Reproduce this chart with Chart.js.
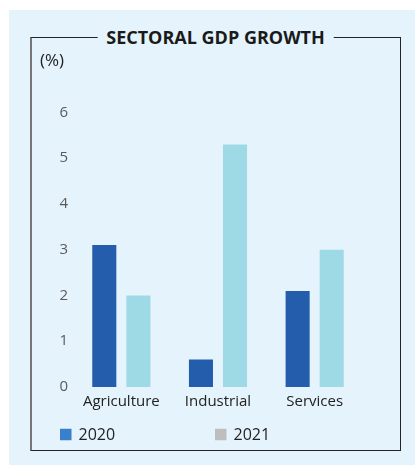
<!DOCTYPE html>
<html>
<head>
<meta charset="utf-8">
<script src="https://cdn.jsdelivr.net/npm/chart.js@4"></script>
<style>
    body { margin: 0; width: 415px; height: 465px; background: #fff; overflow: hidden; position: relative; font-family: "Open Sans", sans-serif; }
    .panel { position: absolute; left: 9px; top: 10px; width: 406px; height: 455px; background: #E5F4FC; }
    .frame { position: absolute; left: 30px; top: 37px; width: 371px; height: 414px; box-sizing: border-box; border: 1px solid #222; border-left: 2px solid #777; }
    .heading { position: absolute; left: 215.5px; top: 37px; transform: translate(-50%, -50%); background: #E5F4FC; padding: 0 9px; font-weight: bold; font-size: 18px; color: #1a1a1a; white-space: nowrap; }
    #myChart { position: absolute; left: 0; top: 0; }
</style>
</head>
<body>
<div class="panel"></div>
<div class="frame"></div>
<div class="heading">SECTORAL GDP GROWTH</div>
<canvas id="myChart" width="415" height="465"></canvas>
<script>
const categories = ["Agriculture", "Industrial", "Services"];
const seriesNames = ["2020", "2021"];
const values2020 = [3.1, 0.6, 2.1];
const values2021 = [2.0, 5.3, 3.0];
const yTicks = [0, 1, 2, 3, 4, 5, 6];

const barColors = ["#235DAC", "#9ED9E6"];
// legend swatches in the original don't match the bars
const legendColors = ["#3A7FCC", "#BEBEBE"];

const fontFamily = "'Open Sans', sans-serif";

// simple legend drawn on the canvas at fixed spots
const legendAt = {
    id: "legendAt",
    afterDraw(chart, args, opts) {
        const ctx = chart.ctx;
        ctx.save();
        ctx.font = "16px " + fontFamily;
        ctx.textBaseline = "middle";
        ctx.textAlign = "left";
        chart.data.datasets.forEach((ds, i) => {
            const x = opts.xs[i];
            ctx.fillStyle = legendColors[i];
            ctx.fillRect(x, opts.y - opts.size / 2, opts.size, opts.size);
            ctx.fillStyle = "#222";
            ctx.fillText(ds.label, x + opts.size + 7, opts.y + 1);
        });
        ctx.restore();
    },
};

const ctx = document.getElementById("myChart");

new Chart(ctx, {
    type: "bar",
    data: {
        labels: categories,
        datasets: [
            {
                label: seriesNames[0],
                data: values2020,
                backgroundColor: barColors[0],
                categoryPercentage: 0.705,
                barPercentage: 0.706,
            },
            {
                label: seriesNames[1],
                data: values2021,
                backgroundColor: barColors[1],
                categoryPercentage: 0.705,
                barPercentage: 0.706,
            },
        ],
    },
    plugins: [legendAt],
    options: {
        responsive: false,
        animation: false,
        layout: {
            padding: { left: 40, right: 52, top: 0, bottom: 48 },
        },
        scales: {
            x: {
                grid: { display: false, drawTicks: false },
                border: { display: false },
                ticks: {
                    color: "#222",
                    padding: 6,
                    font: { family: fontFamily, size: 15 },
                },
            },
            y: {
                min: 0,
                max: 6,
                afterBuildTicks: (scale) => {
                    scale.ticks = yTicks.map((v) => ({ value: v }));
                },
                afterFit: (scale) => {
                    scale.width = 33;
                },
                grid: { display: false, drawTicks: false },
                border: { display: false },
                ticks: {
                    color: "#5a5a5a",
                    padding: 5,
                    font: { family: fontFamily, size: 15, weight: "normal" },
                },
            },
        },
        plugins: {
            legend: { display: false },
            tooltip: { enabled: false },
            title: {
                display: true,
                text: "(%)",
                align: "start",
                color: "#222",
                font: { family: fontFamily, size: 17, weight: "normal" },
                padding: { top: 51, bottom: 41 },
            },
            legendAt: {
                xs: [60, 215],
                y: 434.5,
                size: 11.5,
            },
        },
    },
});
</script>
</body>
</html>
